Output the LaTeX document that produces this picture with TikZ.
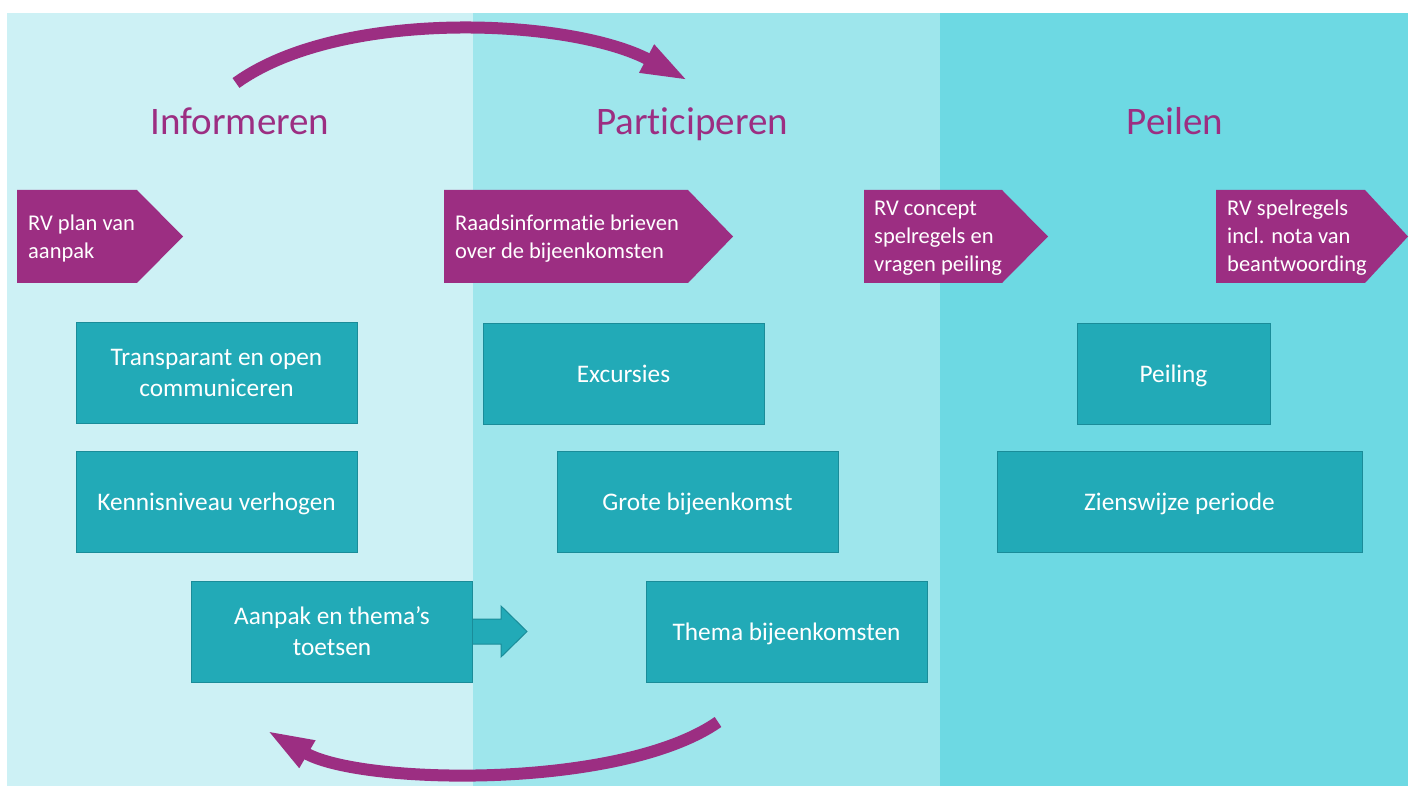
\documentclass[tikz,border=0pt]{standalone}
\usepackage{fontspec}
\setmainfont{Carlito}[Ligatures=NoCommon]
\usetikzlibrary{arrows.meta}

\definecolor{bandA}{HTML}{CDF1F5}
\definecolor{bandB}{HTML}{9EE6EC}
\definecolor{bandC}{HTML}{6DD9E3}
\definecolor{plum}{HTML}{9C2E82}
\definecolor{tealfill}{HTML}{22AAB7}
\definecolor{tealline}{HTML}{1A8C99}

\tikzset{
  phase/.style={anchor=base,text=plum,font=\fontsize{39}{47}\selectfont},
  tealbox/.style={rectangle,draw=tealline,fill=tealfill,line width=1pt,text=white,align=center,
    minimum width=281pt,minimum height=101pt,inner sep=0pt,font=\fontsize{25.3}{31}\selectfont},
  oneline/.style={tealbox,text depth=0pt},
  pentlabel/.style={anchor=west,text=white,align=left,inner sep=0pt,font=\fontsize{22.5}{28}\selectfont},
  swoop/.style={draw=plum,line width=12pt,-{Triangle[length=48pt,width=28pt]}}
}

\begin{document}
\begin{tikzpicture}[x=1pt,y=-1pt]
\useasboundingbox (0,0) rectangle (1413,786);

% background bands
\fill[white] (0,0) rectangle (1413,786);
\fill[bandA] (7,13) rectangle (473,786);
\fill[bandB] (473,13) rectangle (940,786);
\fill[bandC] (940,13) rectangle (1408,786);

\coordinate (T1) at (240,134.5);
\coordinate (T2) at (692,134.5);
\coordinate (T3) at (1175,134.5);

\coordinate (A) at (216.5,373);
\coordinate (B) at (216.5,502);
\coordinate (C) at (332,631.5);
\coordinate (D) at (623.5,374);
\coordinate (E) at (697.5,502);
\coordinate (F) at (786.5,632);
\coordinate (G) at (1173.5,374);
\coordinate (H) at (1179.5,502);

\coordinate (S1) at (236,83);
\coordinate (S2) at (689,81);
\coordinate (R1) at (718,722);
\coordinate (R2) at (266,730);

% cycle arrows
\draw[swoop] (S1) .. controls (340,8) and (570,18) .. (S2);
\draw[swoop] (R1) .. controls (620,790) and (360,785) .. (R2);

\node[phase] (T1a) at (T1) {Informeren};
\node[phase] (T2a) at (T2) {Participeren};
\node[phase] (T3a) at (T3) {Peilen};

% milestones
\fill[plum] (17,190) -- (137,190) -- (183,236.5) -- (137,283) -- (17,283) -- cycle;
\fill[plum] (444,190) -- (688,190) -- (733,236.5) -- (688,283) -- (444,283) -- cycle;
\fill[plum] (864,190) -- (1002,190) -- (1048,236.5) -- (1002,283) -- (864,283) -- cycle;
\fill[plum] (1216,190) -- (1365,190) -- (1408,236.5) -- (1365,283) -- (1216,283) -- cycle;
\node[pentlabel] (P1) at (28,238.5) {RV plan van\\aanpak};
\node[pentlabel] (P2) at (455,238.5) {Raadsinformatie brieven\\over de bijeenkomsten};
\node[pentlabel] (P3) at (874,238) {RV concept\\spelregels en\\vragen peiling};
\node[pentlabel] (P4) at (1227,238) {RV spelregels\\incl. nota van\\beantwoording};

% activities
\node[tealbox] (A1) at (A) {Transparant en open\\communiceren};
\node[oneline] (B1) at (B) {Kennisniveau verhogen};
\node[tealbox] (C1) at (C) {Aanpak en thema’s\\toetsen};
\node[oneline] (D1) at (D) {Excursies};
\node[oneline] (E1) at (E) {Grote bijeenkomst};
\node[oneline] (F1) at (F) {Thema bijeenkomsten};
\node[oneline,minimum width=193pt] (G1) at (G) {Peiling};
\node[oneline,minimum width=365pt] (H1) at (H) {Zienswijze periode};

\filldraw[fill=tealfill,draw=tealline,line width=1pt] (C1.east) ++(0,-12.5) -- ++(28,0) -- ++(0,-13)
  -- ++(26,25.5) -- ++(-26,25.5) -- ++(0,-13) -- ++(-28,0);

\end{tikzpicture}
\end{document}
